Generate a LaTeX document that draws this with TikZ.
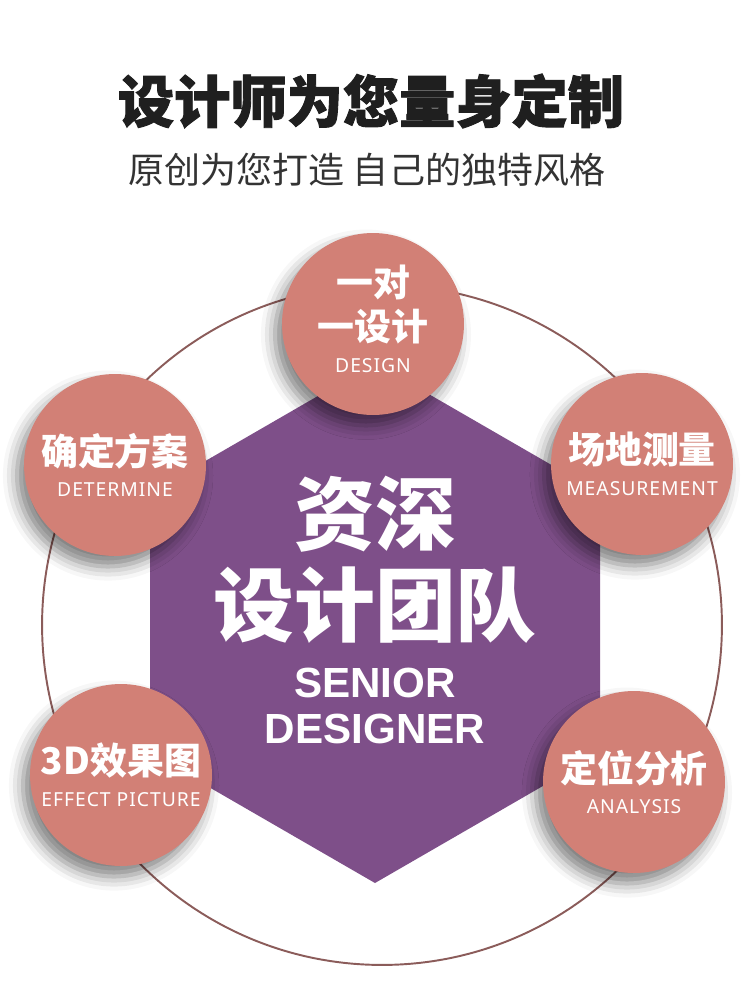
\documentclass[tikz,border=0pt]{standalone}
\usepackage{fontspec}
\newfontfamily\cjk{Noto Sans CJK SC}
\newfontfamily\cjkheavy{Noto Sans CJK SC}[BoldFeatures={FakeBold=1.6}]
\newfontfamily\en{Noto Sans}[LetterSpace=5]
\newfontfamily\enbold{Liberation Sans}
\usepackage{tikz}
\usetikzlibrary{shapes.geometric,shadows.blur,positioning}
\definecolor{teamplum}{RGB}{126,79,137}
\definecolor{stagesalmon}{RGB}{210,128,118}
\definecolor{ringbrown}{RGB}{139,92,90}
\newcommand\stagezh[1]{{\cjk\bfseries\fontsize{21}{24}\selectfont #1}}
\newcommand\stageen[1]{{\en\fontsize{11}{13}\selectfont #1}}

\begin{document}
\begin{tikzpicture}[x=0.02cm, y=-0.02cm,
  stage/.style={circle, fill=stagesalmon, minimum size=3.64cm, inner sep=0pt, text=white, align=center,
    blur shadow={shadow xshift=-4pt, shadow yshift=-6pt, shadow blur radius=8pt, shadow opacity=50}},
  ring/.style={circle, draw=ringbrown, line width=1.1pt, minimum size=13.6cm, inner sep=0pt},
  headline/.style={text=black!88, font=\cjkheavy\bfseries\fontsize{32}{36}\selectfont},
  tagline/.style={text=black!80, font=\cjk\fontsize{20.5}{24}\selectfont},
  core/.style={text=white, align=center}]
\useasboundingbox (0,0) rectangle (750,995);
\node[headline] (title) at (371,101) {设计师为您量身定制};
\node[tagline] (sub) at (367,170) {原创为您打造 自己的独特风格};
\node[ring] (ring) at (382,625) {};
% hexagon behind the five steps
\fill[teamplum] (375,363) -- (600,493) -- (600,753) -- (375,883) -- (150,753) -- (150,493) -- cycle;
\node[core, font=\cjk\bfseries\fontsize{46}{52}\selectfont] (team) at (375,560) {资深\\设计团队};
\node[core, font=\enbold\bfseries\fontsize{24}{26}\selectfont] (senior) at (375,706) {SENIOR\\DESIGNER};
\node[stage] (design) at (373,324) {\stagezh{一对}\\[4pt]\stagezh{一设计}\\[6pt]\stageen{DESIGN}\\[-6pt]\mbox{}};
\node[stage] (plan) at (115,465) {\stagezh{确定方案}\\[6pt]\stageen{DETERMINE}};
\node[stage] (measure) at (642,464) {\stagezh{场地测量}\\[6pt]\stageen{MEASUREMENT}};
\node[stage] (render) at (121,775) {\stagezh{3D效果图}\\[6pt]\stageen{EFFECT PICTURE}};
\node[stage] (analysis) at (634,782) {\stagezh{定位分析}\\[6pt]\stageen{ANALYSIS}};
\end{tikzpicture}
\end{document}
